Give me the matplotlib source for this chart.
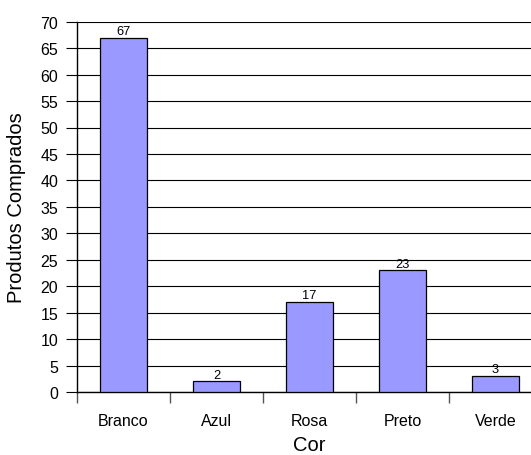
import matplotlib
matplotlib.use("Agg")
import matplotlib.pyplot as plt
import numpy as np

cores = ["Branco", "Azul", "Rosa", "Preto", "Verde"]
compras = [67, 2, 17, 23, 3]
yticks = list(range(0, 75, 5))

plt.rcParams["font.family"] = ["Liberation Sans", "DejaVu Sans"]

fig = plt.figure(figsize=(5.31, 4.56), dpi=100)
ax = fig.add_axes([77 / 531, 1 - 393 / 456, 465 / 531, (393 - 22.7) / 456])

x = np.arange(len(cores))
bars = ax.bar(x, compras, width=0.505, color="#9999FF", edgecolor="black",
              linewidth=0.9, zorder=3)
for b, v in zip(bars, compras):
    ax.annotate(str(v), (b.get_x() + b.get_width() / 2, v), xytext=(0, 0.5),
                textcoords="offset points", ha="center", va="bottom",
                fontsize=9.3, zorder=4)

ax.set_xlim(-0.5, len(cores) - 0.5)
ax.set_ylim(0, 70)
ax.set_yticks(yticks)
ax.yaxis.grid(True, color="black", linewidth=0.8, zorder=0)
ax.tick_params(axis="y", length=8, width=0.8, labelsize=11.5, pad=5.5)

# category boundaries as major ticks, labels on minor ticks
ax.set_xticks(np.arange(-0.5, len(cores), 1.0))
ax.set_xticklabels([])
ax.set_xticks(x, minor=True)
ax.set_xticklabels(cores, minor=True, fontsize=11.5)
ax.tick_params(axis="x", which="major", length=8, width=1.0, color="#555555")
ax.tick_params(axis="x", which="minor", length=0, pad=15)

for s in ["top", "right"]:
    ax.spines[s].set_visible(False)
ax.spines["left"].set_linewidth(1.0)
ax.spines["bottom"].set_linewidth(1.0)

ax.set_xlabel("Cor", fontsize=14.5, labelpad=5)
ax.set_ylabel("Produtos Comprados", fontsize=14.5, labelpad=10)

fig.savefig("out.png", dpi=100)
